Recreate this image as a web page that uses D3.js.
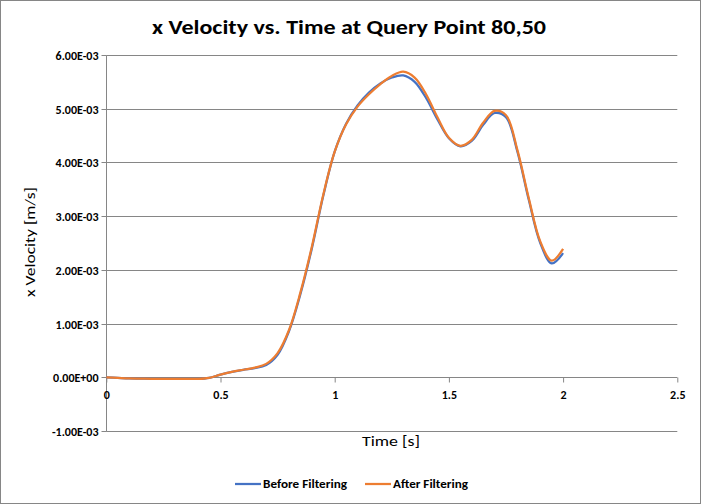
<!DOCTYPE html>
<html><head><meta charset="utf-8">
<script src="https://cdn.jsdelivr.net/npm/d3@7"></script>
<style>
body{margin:0;background:#fff;}
svg{display:block;}
</style></head>
<body><svg id="c" width="701" height="504"></svg>
<script>
const title = "x Velocity vs. Time at Query Point 80,50";
const xTitle = "Time [s]";
const yTitle = "x Velocity [m/s]";
const seriesNames = ["Before Filtering", "After Filtering"];
const seriesColors = ["#4472C4", "#ED7D31"];
const time = [0,0.05,0.1,0.15,0.2,0.25,0.3,0.35,0.4,0.45,0.5,0.55,0.6,0.65,0.7,0.75,0.8,0.85,0.9,0.95,1.0,1.05,1.1,1.15,1.2,1.25,1.3,1.35,1.4,1.45,1.5,1.55,1.6,1.65,1.7,1.75,1.8,1.85,1.9,1.95,2.0];
// values in units of 1e-3 m/s
const before = [0,-0.01,-0.02,-0.025,-0.03,-0.03,-0.03,-0.03,-0.03,-0.01,0.05,0.10,0.14,0.17,0.23,0.42,0.86,1.55,2.4,3.38,4.2,4.72,5.06,5.3,5.47,5.58,5.62,5.5,5.2,4.8,4.45,4.3,4.4,4.7,4.92,4.84,4.2,3.3,2.5,2.12,2.31];
const after  = [0,-0.01,-0.02,-0.025,-0.03,-0.03,-0.03,-0.03,-0.03,-0.01,0.05,0.10,0.14,0.18,0.25,0.45,0.88,1.58,2.43,3.4,4.2,4.71,5.04,5.27,5.46,5.61,5.69,5.58,5.27,4.84,4.46,4.31,4.42,4.74,4.96,4.88,4.23,3.33,2.53,2.17,2.39];
const xTicks = [0,0.5,1,1.5,2,2.5];
const xTickLabels = ["0","0.5","1","1.5","2","2.5"];
const yTicks = [-1e-3,0,1e-3,2e-3,3e-3,4e-3,5e-3,6e-3];
const yTickLabels = ["-1.00E-03","0.00E+00","1.00E-03","2.00E-03","3.00E-03","4.00E-03","5.00E-03","6.00E-03"];

const FONT = "Carlito, Calibri, 'Liberation Sans Narrow', Arial, sans-serif";
const svg = d3.select("#c");
const x = d3.scaleLinear().domain([0,2.5]).range([106.3,677.3]);
const y = d3.scaleLinear().domain([-1e-3,6e-3]).range([431,55]);
const grid = "#868686";

svg.append("rect").attr("x",0.5).attr("y",0.5).attr("width",700).attr("height",503)
  .attr("fill","#fff").attr("stroke",grid).attr("stroke-width",1);

// gridlines
svg.append("g").selectAll("line").data(yTicks.filter(v=>v!==0)).join("line")
  .attr("x1",x(0)).attr("x2",x(2.5))
  .attr("y1",d=>Math.round(y(d))+0.5).attr("y2",d=>Math.round(y(d))+0.5)
  .attr("stroke",grid).attr("stroke-width",1);

// y axis
const yAxis = svg.append("g").attr("transform",`translate(${Math.round(x(0))+0.5},0)`)
  .call(d3.axisLeft(y).tickValues(yTicks).tickSize(5).tickPadding(3)
    .tickFormat((d,i)=>yTickLabels[i]));
yAxis.select(".domain").attr("stroke",grid).attr("d",`M0,${Math.round(y(6e-3))+0.5}V${Math.round(y(-1e-3))+0.5}`);
yAxis.selectAll(".tick line").attr("stroke",grid);
yAxis.selectAll(".tick").attr("transform",d=>`translate(0,${Math.round(y(d))+0.5})`);
yAxis.selectAll("text").attr("font-family",FONT).attr("font-size",12).attr("font-weight","bold")
  .attr("fill","#000").attr("dy","0.36em");

// x axis at y=0
const xAxis = svg.append("g").attr("transform",`translate(0,${Math.round(y(0))+0.5})`)
  .call(d3.axisBottom(x).tickValues(xTicks).tickSize(5).tickPadding(8)
    .tickFormat((d,i)=>xTickLabels[i]));
xAxis.select(".domain").attr("stroke",grid).attr("d",`M${x(0)},0H${x(2.5)}`);
xAxis.selectAll(".tick line").attr("stroke",grid);
xAxis.selectAll("text").attr("font-family",FONT).attr("font-size",12).attr("font-weight","bold").attr("fill","#000");

// lines
const line = d3.line().x((d,i)=>x(time[i])).y(d=>y(d*1e-3)).curve(d3.curveCatmullRom.alpha(0.5));
[before, after].forEach((s,k)=>{
  svg.append("path").datum(s).attr("d",line).attr("fill","none")
    .attr("stroke",seriesColors[k]).attr("stroke-width",2.25).attr("stroke-linejoin","round");
});

// titles
svg.append("text").attr("x",349).attr("y",34).attr("text-anchor","middle")
  .attr("font-family",FONT).attr("font-size",20).attr("font-weight","bold")
  .attr("textLength",394).attr("lengthAdjust","spacingAndGlyphs").text(title);
svg.append("text").attr("x",391).attr("y",446).attr("text-anchor","middle")
  .attr("font-family",FONT).attr("font-size",15)
  .attr("textLength",58).attr("lengthAdjust","spacingAndGlyphs").text(xTitle);
svg.append("text").attr("transform","translate(35,242) rotate(-90)").attr("text-anchor","middle")
  .attr("font-family",FONT).attr("font-size",15)
  .attr("textLength",110).attr("lengthAdjust","spacingAndGlyphs").text(yTitle);

// legend
const legX = [235, 365];
const legW = [84, 75];
seriesNames.forEach((n,k)=>{
  const g = svg.append("g");
  g.append("line").attr("x1",legX[k]).attr("x2",legX[k]+26).attr("y1",484).attr("y2",484)
    .attr("stroke",seriesColors[k]).attr("stroke-width",2.25);
  g.append("text").attr("x",legX[k]+28).attr("y",488)
    .attr("font-family",FONT).attr("font-size",12).attr("font-weight","bold")
    .attr("textLength",legW[k]).attr("lengthAdjust","spacingAndGlyphs").text(n);
});
</script></body></html>
